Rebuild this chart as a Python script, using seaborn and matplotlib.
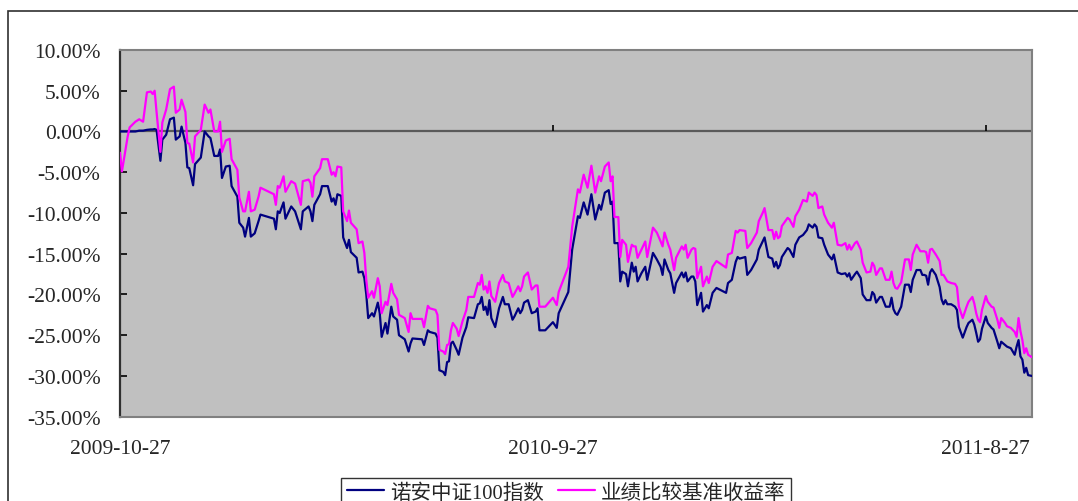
import numpy as np
import pandas as pd
import seaborn as sns
import matplotlib.pyplot as plt
from matplotlib.patches import Rectangle

# trading-day index (0 = 2009-10-27) and cumulative returns in %
days = [0, 1, 4, 5, 8, 10, 12, 14, 16, 17, 18, 19, 21, 22, 24, 26, 28, 29, 31, 32,
        34, 35, 36, 38, 39, 42, 44, 46, 47, 49, 51, 52, 53, 55, 57, 58, 61, 62, 64, 65,
        67, 68, 70, 72, 73, 80, 81, 82, 83, 85, 86, 89, 91, 94, 95, 98, 99, 100, 101, 104,
        105, 108, 110, 111, 112, 113, 115, 116, 118, 119, 120, 123, 124, 126, 127, 128, 129, 131, 132, 134,
        135, 136, 138, 139, 141, 142, 144, 145, 148, 150, 151, 152, 157, 158, 160, 161, 164, 165, 166, 168,
        169, 170, 171, 172, 173, 175, 176, 178, 180, 181, 184, 186, 187, 188, 189, 190, 191, 192, 193, 195,
        197, 199, 200, 202, 204, 205, 207, 208, 209, 210, 212, 214, 216, 217, 218, 221, 225, 227, 228, 233,
        235, 238, 239, 241, 243, 245, 247, 249, 250, 252, 254, 255, 256, 257, 259, 260, 261, 263, 264, 266,
        267, 268, 269, 271, 273, 274, 277, 279, 281, 282, 283, 285, 286, 288, 289, 292, 293, 294, 295, 297,
        298, 299, 300, 302, 303, 305, 306, 308, 310, 315, 316, 318, 320, 321, 322, 325, 326, 328, 331, 332,
        334, 335, 337, 339, 340, 341, 342, 343, 344, 347, 348, 350, 351, 353, 355, 357, 358, 360, 361, 362,
        363, 365, 366, 368, 370, 371, 373, 375, 377, 378, 379, 380, 382, 383, 385, 386, 388, 390, 391, 392,
        393, 395, 396, 398, 400, 401, 402, 403, 404, 406, 408, 410, 411, 412, 414, 416, 417, 418, 419, 420,
        421, 422, 424, 426, 427, 428, 429, 430, 432, 434, 435, 436, 438, 440, 441, 443, 444, 445, 446, 447,
        448, 450, 451, 453, 454, 456, 457, 458, 460, 461, 463, 465, 466, 467, 468, 469, 470, 471, 472, 474]

fund = [0, 0, 0, 0, 0, 0.1, 0.1, 0.2, 0.25, 0.25, 0.3, 0.2, -3.6, -1.0, -0.4, 1.5, 1.7, -1.0, -0.6, 0.6,
        -1.4, -4.4, -4.5, -6.6, -4.0, -3.2, 0.0, -0.6, -0.8, -3.0, -3.0, -2.2, -5.7, -4.3, -4.2, -6.7, -8.0, -11.2, -11.8, -12.9,
        -10.6, -12.9, -12.5, -11.0, -10.2, -10.7, -12.0, -9.8, -10.0, -8.7, -10.7, -9.2, -9.8, -12.0, -9.8, -9.2, -9.8, -11.0, -9.0, -7.7,
        -6.7, -6.7, -8.6, -8.2, -9.0, -7.7, -7.9, -13.0, -14.3, -13.3, -14.8, -15.5, -17.3, -17.2, -18.0, -20.0, -22.9, -22.3, -22.7, -21.0,
        -22.3, -25.2, -23.5, -24.8, -21.5, -22.7, -23.1, -25.0, -25.5, -27.0, -26.0, -25.4, -25.5, -26.2, -24.4, -24.6, -24.8, -25.3, -29.3, -29.5,
        -29.9, -28.3, -28.2, -26.0, -25.8, -26.8, -27.4, -25.3, -24.0, -22.8, -22.9, -21.2, -21.1, -20.3, -21.9, -21.5, -22.5, -20.7, -22.9, -24.0,
        -21.7, -20.3, -21.2, -21.2, -23.1, -22.7, -21.7, -22.3, -21.9, -21.0, -20.7, -22.3, -22.1, -21.7, -24.4, -24.4, -23.4, -24.1, -22.3, -19.7,
        -14.5, -10.4, -10.6, -8.7, -10.2, -7.7, -10.8, -9.0, -9.6, -7.5, -7.2, -8.9, -8.6, -13.7, -13.7, -18.4, -17.2, -17.5, -19.0, -16.1,
        -17.2, -16.6, -18.4, -17.4, -16.6, -18.2, -14.9, -15.7, -16.6, -17.6, -15.7, -17.0, -17.4, -19.8, -18.6, -17.3, -17.9, -17.3, -18.4, -17.8,
        -17.8, -18.4, -21.3, -19.8, -22.1, -21.3, -21.7, -19.8, -19.2, -19.8, -18.6, -18.2, -16.0, -15.4, -15.6, -15.4, -17.6, -17.0, -15.7, -14.5,
        -13.5, -13.0, -15.4, -15.6, -16.6, -16.0, -16.8, -16.4, -15.4, -14.3, -14.5, -15.4, -13.9, -13.0, -12.7, -12.1, -11.4, -11.8, -11.4, -11.7,
        -13.0, -13.1, -13.9, -15.1, -15.7, -15.1, -17.3, -17.5, -17.4, -17.8, -17.4, -18.2, -17.5, -17.2, -18.0, -20.0, -20.7, -20.7, -19.7, -20.0,
        -21.0, -20.3, -20.3, -21.5, -21.5, -20.4, -21.8, -22.3, -22.5, -21.5, -18.8, -18.8, -19.7, -18.2, -17.0, -17.0, -17.6, -17.6, -17.7, -18.8,
        -17.3, -16.9, -17.6, -19.1, -20.6, -21.2, -20.7, -21.2, -21.2, -21.5, -21.9, -24.0, -25.3, -24.0, -23.5, -23.1, -23.7, -24.7, -25.8, -25.5,
        -24.2, -22.7, -23.5, -24.1, -24.3, -25.8, -26.6, -25.8, -26.2, -26.4, -26.6, -27.4, -26.4, -25.6, -27.6, -28.0, -29.6, -29.0, -29.9, -30.0]

bench = [-2.6, -4.9, -0.6, 0.5, 1.2, 1.5, 1.2, 4.8, 4.9, 4.6, 5.0, 2.4, -2.5, 1.1, 2.7, 5.2, 5.5, 2.3, 2.7, 3.9,
         2.4, -1.4, -1.5, -3.8, -0.6, 0.2, 3.3, 2.3, 2.7, 0.0, 0.0, 1.2, -2.5, -1.1, -0.9, -3.4, -4.7, -8.1, -9.8, -9.8,
         -7.4, -9.8, -9.6, -8.0, -6.9, -7.7, -9.0, -6.7, -6.9, -5.5, -7.4, -6.1, -6.4, -9.0, -6.1, -5.9, -6.3, -8.0, -5.5, -4.5,
         -3.4, -3.4, -5.3, -5.0, -5.5, -4.3, -4.4, -9.8, -11.0, -9.7, -11.2, -12.0, -13.7, -13.5, -14.9, -18.2, -20.4, -19.6, -20.4, -18.0,
         -19.0, -22.3, -20.9, -21.3, -18.7, -19.8, -20.6, -22.5, -22.9, -24.6, -22.3, -23.0, -23.0, -24.0, -21.4, -21.7, -21.9, -22.5, -26.8, -27.0,
         -27.3, -26.2, -26.1, -24.4, -23.5, -24.2, -25.1, -23.3, -21.9, -20.3, -20.3, -18.6, -18.8, -17.6, -19.4, -19.0, -19.8, -18.4, -20.2, -20.9,
         -18.6, -17.6, -18.4, -18.6, -20.3, -19.9, -19.0, -19.6, -19.0, -17.8, -17.3, -19.4, -18.9, -18.9, -21.5, -21.5, -20.4, -21.3, -19.7, -16.6,
         -11.7, -7.1, -7.5, -5.3, -6.9, -4.2, -7.5, -5.5, -6.1, -4.3, -3.8, -6.1, -5.5, -10.5, -10.5, -15.4, -13.3, -13.9, -16.0, -13.9,
         -14.1, -14.1, -15.5, -14.5, -13.5, -15.4, -11.8, -12.4, -13.5, -14.1, -12.4, -13.9, -14.5, -17.0, -15.5, -14.1, -14.5, -13.9, -15.5, -14.5,
         -14.3, -14.4, -18.0, -16.6, -19.0, -17.8, -18.6, -16.6, -15.9, -16.7, -15.1, -14.9, -12.2, -12.4, -12.1, -12.2, -14.3, -13.7, -12.4, -11.0,
         -10.0, -9.4, -12.1, -12.1, -13.2, -12.3, -13.1, -12.9, -11.6, -10.6, -10.8, -11.7, -10.4, -9.6, -8.4, -8.6, -7.5, -7.9, -7.5, -7.8,
         -9.4, -9.2, -10.2, -11.2, -11.8, -11.2, -13.9, -14.0, -13.7, -14.5, -13.9, -14.5, -13.7, -13.5, -14.5, -16.1, -17.3, -17.2, -16.1, -16.5,
         -17.6, -16.8, -16.8, -18.2, -18.2, -17.2, -18.6, -19.2, -19.3, -18.5, -15.7, -15.7, -17.0, -15.1, -13.9, -14.7, -14.7, -14.7, -14.8, -16.1,
         -14.5, -14.4, -15.1, -15.9, -17.6, -17.6, -18.0, -18.4, -18.6, -18.7, -19.1, -21.5, -22.9, -21.5, -20.9, -20.3, -21.1, -22.3, -23.1, -23.4,
         -21.9, -20.2, -20.9, -21.5, -21.6, -23.1, -24.1, -22.9, -23.5, -23.9, -24.1, -24.6, -25.2, -22.9, -24.5, -25.6, -27.2, -26.6, -27.4, -27.7]

series_names = ["诺安中证100指数", "业绩比较基准收益率"]
tick_days = [0, 225, 450]
tick_labels = ["2009-10-27", "2010-9-27", "2011-8-27"]
y_ticks = list(range(-35, 11, 5))

df = pd.DataFrame({"day": days + days,
                   "ret": fund + bench,
                   "series": [series_names[0]] * len(days) + [series_names[1]] * len(days)})

sns.set_style("white")
plt.rcParams["font.family"] = ["Liberation Serif", "Noto Sans CJK SC"]
plt.rcParams["font.size"] = 15.5

fig = plt.figure(figsize=(10.78, 5.02), dpi=100)
ax = fig.add_axes([120 / 1078, 1 - 417.7 / 502, 912 / 1078, 366.7 / 502])
ax.set_facecolor("#C0C0C0")

ax.axhline(0, color="#5a5a5a", lw=1.6, zorder=1)
ax.vlines(tick_days[1:], 0, 0.75, color="black", lw=1.2, zorder=1)

sns.lineplot(data=df, x="day", y="ret", hue="series",
             palette=["#000080", "#FF00FF"], lw=1.6, ax=ax, zorder=3)

ax.set_xlim(0, days[-1])
ax.set_ylim(-35, 10)
ax.set_yticks(y_ticks)
ax.set_yticklabels([f"{v:.2f}%" for v in y_ticks])
ax.set_xticks(tick_days)
ax.set_xticklabels(tick_labels)
ax.tick_params(axis="x", length=0, pad=16)
ax.tick_params(axis="y", direction="in", length=5, width=1.2, color="black", pad=14, left=True)
ax.set_xlabel("")
ax.set_ylabel("")

for s in ["top", "right", "bottom"]:
    ax.spines[s].set_color("#808080")
    ax.spines[s].set_linewidth(1.5)
ax.spines["left"].set_color("#303030")
ax.spines["left"].set_linewidth(1.6)

handles, labels = ax.get_legend_handles_labels()
ax.get_legend().remove()
leg = fig.legend(handles, labels, loc="upper center", bbox_to_anchor=(566 / 1078, 1 - 479 / 502),
                 ncol=2, frameon=True, fancybox=False, fontsize=14.8, handlelength=1.8,
                 handletextpad=0.3, columnspacing=0.7, borderpad=0.25, borderaxespad=0)
leg.get_frame().set_edgecolor("black")
leg.get_frame().set_linewidth(1.0)

# outer chart border
fig.patches.append(Rectangle((8 / 1078, -0.1), 1.2, 1 - 11.5 / 502 + 0.1, transform=fig.transFigure,
                             fill=False, edgecolor="#303030", lw=1.2))

fig.savefig("out.png", dpi=100)
